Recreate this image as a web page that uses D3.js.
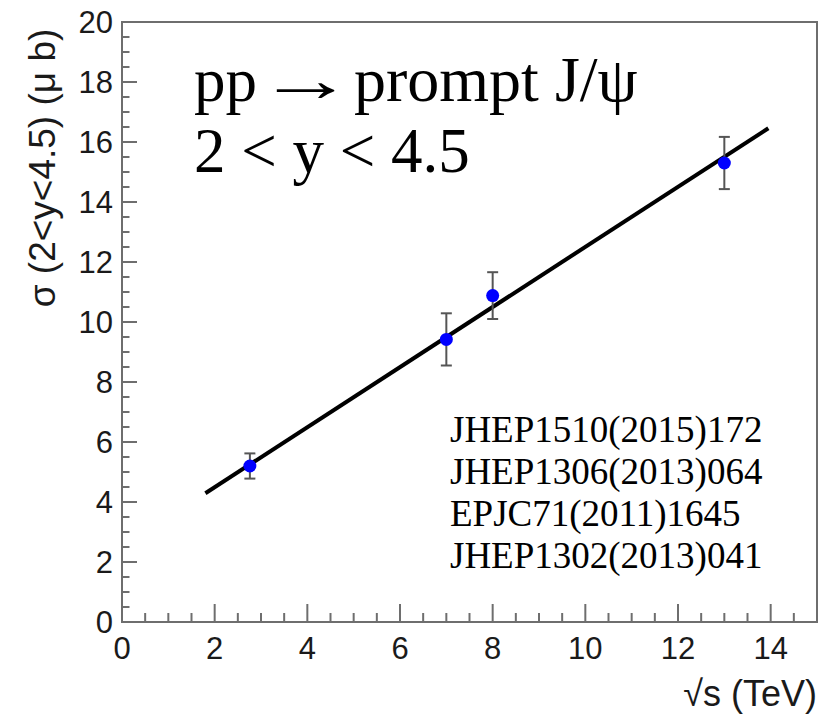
<!DOCTYPE html>
<html><head><meta charset="utf-8">
<script src="https://cdn.jsdelivr.net/npm/d3@7"></script>
<style>body{margin:0;background:#fff}svg{display:block}</style>
</head><body>
<script>
const energies = [2.76, 7, 8, 13];
const sigma = [5.2, 9.42, 10.88, 15.3];
const sigmaErr = [0.42, 0.87, 0.78, 0.87];
const fitX = [1.8, 13.95];
const fitY = [4.29, 16.46];
const xTicks = [0, 2, 4, 6, 8, 10, 12, 14];
const yTicks = [0, 2, 4, 6, 8, 10, 12, 14, 16, 18, 20];
const refs = ["JHEP1510(2015)172", "JHEP1306(2013)064", "EPJC71(2011)1645", "JHEP1302(2013)041"];

const W = 819, H = 714;
const L = 122, R = 817, T = 22, B = 622;
const svg = d3.select("body").append("svg").attr("width", W).attr("height", H);
const x = d3.scaleLinear().domain([0, 15]).range([L, R]);
const y = d3.scaleLinear().domain([0, 20]).range([B, T]);
const axisCol = "#6e6e6e";
const sans = "'Liberation Sans', Arial, Helvetica, sans-serif";
const serif = "'Liberation Serif', 'Times New Roman', serif";

// frame
svg.append("rect").attr("x", L).attr("y", T).attr("width", R - L).attr("height", B - T)
  .attr("fill", "none").attr("stroke", axisCol).attr("stroke-width", 2);

// ticks
const minorX = d3.range(0, 15.01, 0.5);
const minorY = d3.range(0, 20.01, 0.5);
const g = svg.append("g").attr("stroke", axisCol).attr("stroke-width", 2);
minorX.forEach(v => {
  const major = Math.abs(v % 2) < 1e-6;
  g.append("line").attr("x1", x(v)).attr("x2", x(v)).attr("y1", B).attr("y2", B - (major ? 18 : 9));
});
minorY.forEach(v => {
  const major = Math.abs(v % 2) < 1e-6;
  g.append("line").attr("x1", L).attr("x2", L + (major ? 15 : 7.5)).attr("y1", y(v)).attr("y2", y(v));
});

// tick labels
svg.append("g").selectAll("text").data(xTicks).join("text")
  .attr("x", d => x(d)).attr("y", 659).attr("text-anchor", "middle")
  .attr("font-family", sans).attr("font-size", 31).attr("fill", "#1a1a1a").text(d => d);
svg.append("g").selectAll("text").data(yTicks).join("text")
  .attr("x", 113).attr("y", d => y(d) + 11).attr("text-anchor", "end")
  .attr("font-family", sans).attr("font-size", 31).attr("fill", "#1a1a1a").text(d => d);

// axis titles
svg.append("text").attr("x", R).attr("y", 706).attr("text-anchor", "end")
  .attr("font-family", sans).attr("font-size", 36).attr("fill", "#1a1a1a").text("√s (TeV)");
svg.append("text").attr("transform", "translate(55,168) rotate(-90)")
  .attr("text-anchor", "middle").attr("font-family", sans).attr("font-size", 37)
  .attr("fill", "#1a1a1a").text("σ (2<y<4.5) (μ b)");

// fit line
svg.append("path").datum(fitX.map((v, i) => [v, fitY[i]]))
  .attr("d", d3.line().x(d => x(d[0])).y(d => y(d[1])))
  .attr("stroke", "#000").attr("stroke-width", 4).attr("fill", "none");

// error bars
const eb = svg.append("g").attr("stroke", "#555").attr("stroke-width", 2);
energies.forEach((e, i) => {
  const cx = x(e), lo = y(sigma[i] - sigmaErr[i]), hi = y(sigma[i] + sigmaErr[i]);
  eb.append("line").attr("x1", cx).attr("x2", cx).attr("y1", lo).attr("y2", hi);
  eb.append("line").attr("x1", cx - 5.5).attr("x2", cx + 5.5).attr("y1", lo).attr("y2", lo);
  eb.append("line").attr("x1", cx - 5.5).attr("x2", cx + 5.5).attr("y1", hi).attr("y2", hi);
});
svg.append("g").selectAll("circle").data(energies).join("circle")
  .attr("cx", d => x(d)).attr("cy", (d, i) => y(sigma[i])).attr("r", 6.5).attr("fill", "#0000ff");

// labels
svg.append("text").attr("x", 194).attr("y", 101).attr("font-family", serif).attr("font-size", 63)
  .attr("fill", "#000").text("pp");
svg.append("text").attr("transform", "translate(257,101) scale(1.54,1)").attr("font-family", serif)
  .attr("font-size", 63).attr("fill", "#000").text("→");
svg.append("text").attr("x", 354).attr("y", 101).attr("font-family", serif).attr("font-size", 64)
  .attr("fill", "#000").text("prompt J/ψ");
svg.append("text").attr("x", 194).attr("y", 172).attr("font-family", serif).attr("font-size", 63)
  .attr("fill", "#000").text("2 < y < 4.5");
svg.append("g").selectAll("text").data(refs).join("text")
  .attr("x", 450).attr("y", (d, i) => 442 + i * 42).attr("font-family", serif).attr("font-size", 37)
  .attr("fill", "#000").text(d => d);
</script>
</body></html>
